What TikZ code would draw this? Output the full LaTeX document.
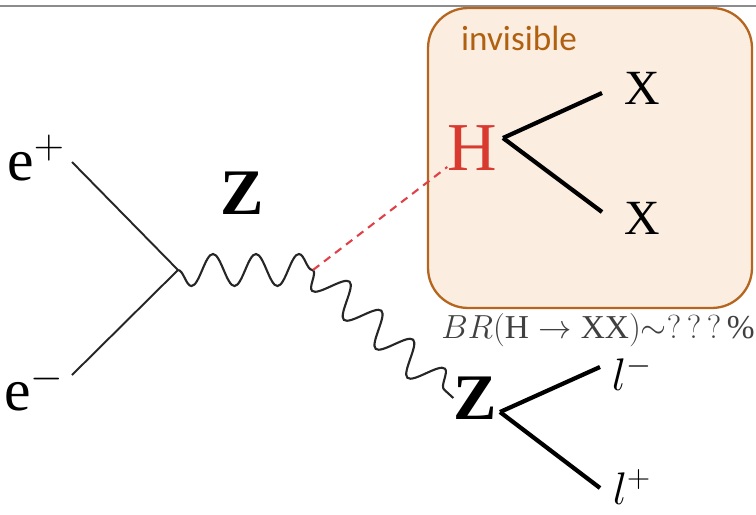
\RequirePackage{fix-cm}
\documentclass[tikz,border=0pt]{standalone}
\usepackage{fontspec}
\setmainfont{Liberation Serif}
\newfontfamily\labelfont{Carlito}
\usetikzlibrary{
  decorations.pathmorphing,
  positioning,
  calc
}
\definecolor{fdRule}{HTML}{8C8C8C}
\definecolor{fdBox}{HTML}{FBEEE1}
\definecolor{fdEdge}{HTML}{B5651D}
\definecolor{fdLabel}{HTML}{B0600F}
\definecolor{fdHiggs}{HTML}{D93A30}
\definecolor{fdDash}{HTML}{E04048}
\definecolor{fdNote}{HTML}{404040}
\tikzset{
  particle/.style={inner sep=0pt, outer sep=0pt, font=\fontsize{34}{34}\selectfont},
  boson/.style={particle, font=\fontsize{37}{37}\selectfont\bfseries},
  product/.style={particle, font=\fontsize{28}{28}\selectfont},
  lepton/.style={particle, font=\fontsize{26}{26}\selectfont},
  fermion/.style={line width=1.1pt, black!85},
  decayline/.style={line width=2.4pt, black},
  photon/.style={line width=1.2pt, black!85, decorate,
    decoration={snake, segment length=0.86cm, amplitude=-0.32cm}},
  higgs/.style={line width=1.2pt, fdDash, dash pattern=on 4.5pt off 3.4pt},
  invbox/.style={draw=fdEdge, fill=fdBox, line width=1.3pt, rounded corners=0.8cm,
    minimum width=6.48cm, minimum height=6cm},
  boxtag/.style={font=\labelfont\fontsize{20}{20}\selectfont, text=fdLabel, inner sep=0pt},
  note/.style={font=\fontsize{19}{19}\selectfont, text=fdNote, inner sep=0pt},
  topline/.style={line width=1.7pt, fdRule}
}

\begin{document}
\begin{tikzpicture}[x=0.02cm, y=-0.02cm]
  \useasboundingbox (0,0) rectangle (756,514);
  \draw[topline] (0,6) -- (756,6);
  % invisible decay box
  \node[invbox] (box) at (590,158) {};
  \node[boxtag] (inv) at (519,38) {invisible};
  % vertices
  \coordinate (v1) at (178,270);
  \coordinate (v2) at (313,270);
  \coordinate (v3) at (500,412);
  \coordinate (v4) at (503,138);
  % incoming beams
  \node[particle] (ep) at (36,158) {e$^+$};
  \node[particle] (em) at (34,388) {e$^-$};
  \coordinate (epend) at (72,162);
  \coordinate (emend) at (72,375);
  \draw[fermion] (epend) -- (v1);
  \draw[fermion] (emend) -- (v1);
  % Z propagators
  \node[boson] (z1) at (242,193) {Z};
  \node[boson] (z2) at (475,398) {Z};
  \draw[photon] (v1) -- (v2);
  \draw[photon] (v2) -- (z2.west);
  % Higgs
  \node[particle, font=\fontsize{39}{39}\selectfont, text=fdHiggs] (h) at (472,148) {H};
  \draw[higgs] (v2) -- (h);
  \node[product] (x1) at (642,88) {X};
  \node[product] (x2) at (642,218) {X};
  \coordinate (x1end) at (602,93);
  \coordinate (x2end) at (602,212);
  \foreach \n in {x1end,x2end}{\draw[decayline] (v4) -- (\n);}
  % Z decay
  \node[lepton] (lm) at (632,373) {$l^-$};
  \node[lepton] (lp) at (632,487) {$l^+$};
  \coordinate (lmend) at (600,367);
  \coordinate (lpend) at (600,488);
  \foreach \n in {lmend,lpend}{\draw[decayline] (v3) -- (\n);}
  \node[note] (br) at (598,330) {$BR(\mathrm{H}\rightarrow\mathrm{XX})\mathord{\sim}?\,?\,?\,\%$};
\end{tikzpicture}
\end{document}
